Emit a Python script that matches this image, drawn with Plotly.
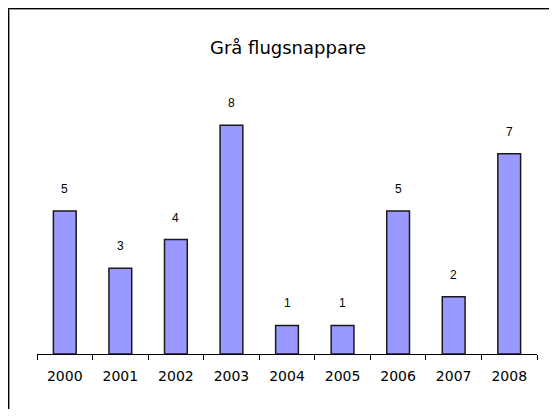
import plotly.graph_objects as go

# data
years = ["2000", "2001", "2002", "2003", "2004", "2005", "2006", "2007", "2008"]
counts = [5, 3, 4, 8, 1, 1, 5, 2, 7]
title_text = "Grå flugsnappare"

# the page puts the figure 8px in from the top-left corner
OFF = 8
W, H = 557 - 2 * OFF, 417 - 2 * OFF
# plot area in page pixels, converted to figure pixels
L, R, T, B = 37 - OFF, 537 - OFF, 68 - OFF, 354 - OFF


def px_x(p):
    return (p - OFF - L) / (R - L)


def px_y(p):
    return (B - (p - OFF)) / (B - T)


fig = go.Figure()

fig.add_trace(go.Bar(
    x=years,
    y=counts,
    marker=dict(color="#9999FF", line=dict(color="#1a1a1a", width=1.5)),
    hoverinfo="x+y",
    showlegend=False,
))

# value labels above bars (x given as category index)
for i, c in enumerate(counts):
    fig.add_annotation(
        x=i, y=c, text=str(c), showarrow=False,
        yanchor="bottom", yshift=13,
        font=dict(family="Liberation Sans, Arial, sans-serif", size=12, color="#000000"),
    )

# frame around the chart (only top/left visible in the image)
fig.add_shape(type="rect", xref="paper", yref="paper",
              x0=px_x(8), y0=px_y(440), x1=px_x(600), y1=px_y(8),
              line=dict(color="#000000", width=2), layer="below")
fig.add_shape(type="rect", xref="paper", yref="paper",
              x0=px_x(9.5), y0=px_y(440), x1=px_x(600), y1=px_y(9.5),
              line=dict(color="#9a9a9a", width=1), layer="below")

fig.update_layout(
    width=W, height=H,
    margin=dict(l=L, r=W - R, t=T, b=H - B),
    paper_bgcolor="white",
    plot_bgcolor="white",
    bargap=0.59,
    title=dict(
        text=title_text, x=(288 - OFF) / W, xanchor="center",
        y=1 - (48 - OFF) / H, yanchor="middle",
        font=dict(family="DejaVu Sans, sans-serif", size=18, color="#000000"),
    ),
    xaxis=dict(
        type="category",
        range=[-0.5, len(years) - 0.5],
        showline=True, linecolor="#000000", linewidth=1,
        ticks="outside", tickson="boundaries", ticklen=5,
        tickcolor="#000000", tickwidth=1,
        ticklabelstandoff=9,
        tickfont=dict(family="DejaVu Sans, sans-serif", size=14, color="#000000"),
        showgrid=False, zeroline=False,
    ),
    yaxis=dict(range=[0, 10], visible=False, showgrid=False, zeroline=False),
)

fig.write_html("out.html")
